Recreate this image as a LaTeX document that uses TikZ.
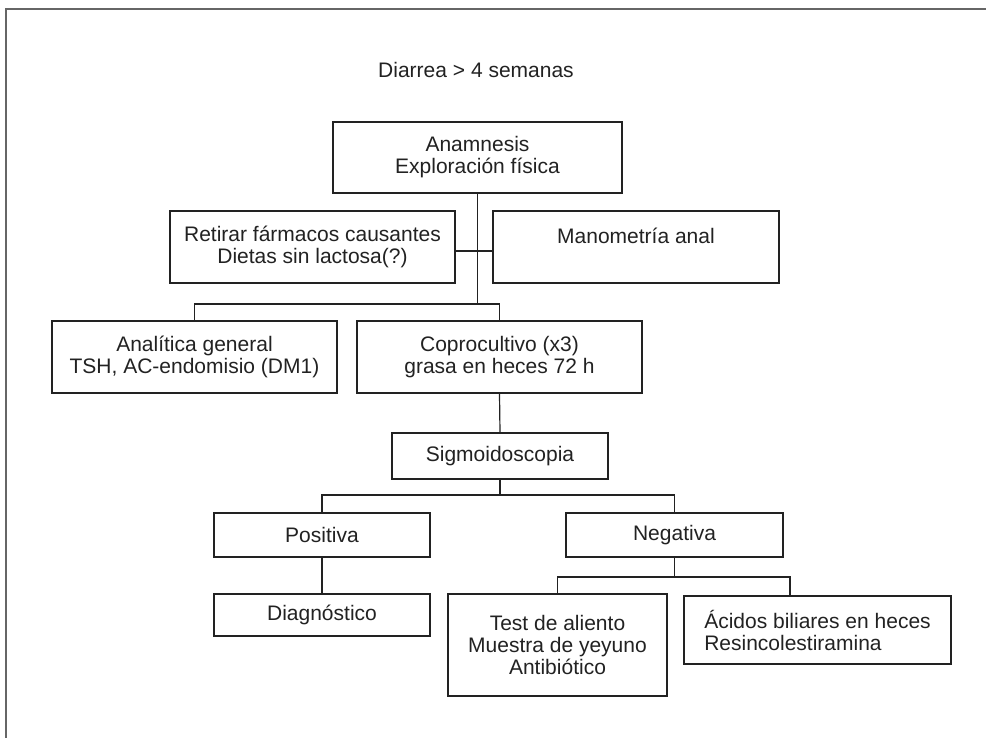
\documentclass[tikz,border=0pt]{standalone}
\usepackage{fontspec}
\setmainfont{Liberation Sans}
\definecolor{framecol}{HTML}{666666}
\definecolor{inkcol}{HTML}{222222}
\tikzset{
  box/.style={draw=inkcol, line width=1.3pt, inner sep=0pt, align=center, text=inkcol,
    font=\fontsize{21}{22}\selectfont},
  link/.style={draw=inkcol, line width=1.2pt},
  plain/.style={inner sep=0pt, text=inkcol, font=\fontsize{21}{22}\selectfont}
}
\begin{document}
\begin{tikzpicture}[x=1pt,y=-1pt]
\useasboundingbox[fill=white] (0,0) rectangle (986,738);
\draw[framecol, line width=2pt] (6,738) -- (6,9) -- (986,9);

\node[plain] (title) at (476,70) {Diarrea > 4 semanas};

\node[box, minimum width=289pt, minimum height=71pt] (anam) at (477.5,157.5) {Anamnesis\\Exploración física};
\node[box, minimum width=285pt, minimum height=72pt] (retirar) at (312.5,247) {Retirar fármacos causantes\\Dietas sin lactosa(?)};
\node[box, minimum width=286pt, minimum height=72pt] (mano) at (636,247) {Manometría anal\\\phantom{X}};
\node[box, minimum width=285pt, minimum height=72pt] (anal) at (194.5,357) {Analítica general\\TSH, AC-endomisio (DM1)};
\node[box, minimum width=285pt, minimum height=72pt] (copro) at (499.5,357) {Coprocultivo (x3)\\grasa en heces 72 h};
\node[box, minimum width=216pt, minimum height=46pt] (sigmo) at (500,456) {Sigmoidoscopia};
\node[box, minimum width=216pt, minimum height=44pt] (posit) at (322,535) {Positiva};
\node[box, minimum width=217pt, minimum height=44pt] (negat) at (674.5,535) {Negativa};
\node[box, minimum width=216pt, minimum height=42pt] (diag) at (322,615) {Diagnóstico};
\node[box, minimum width=219pt, minimum height=102pt] (test) at (557.5,645) {Test de aliento\\Muestra de yeyuno\\Antibiótico};
\node[box, align=left, minimum width=267pt, minimum height=68pt] (acid) at (817.5,630) {Ácidos biliares en heces\\Resincolestiramina};

\coordinate (h1) at (0,251);
\coordinate (b1) at (0,304);
\coordinate (b2) at (0,495);
\coordinate (b3) at (0,577);
\coordinate (a3) at (790,577);

\draw[link] (anam.south) -- (anam.south |- b1);
\draw[link] (retirar.east |- h1) -- (mano.west |- h1);
\draw[link] (anal.north) -- (anal.north |- b1) -- (copro.north |- b1) -- (copro.north);
\draw[link] (copro.south) -- (sigmo.north);
\draw[link] (sigmo.south) -- (sigmo.south |- b2);
\draw[link] (posit.north) -- (posit.north |- b2) -- (negat.north |- b2) -- (negat.north);
\draw[link] (posit.south) -- (diag.north);
\draw[link] (negat.south) -- (negat.south |- b3);
\draw[link] (test.north) -- (test.north |- b3) -- (a3) -- (a3 |- acid.north);
\end{tikzpicture}
\end{document}
